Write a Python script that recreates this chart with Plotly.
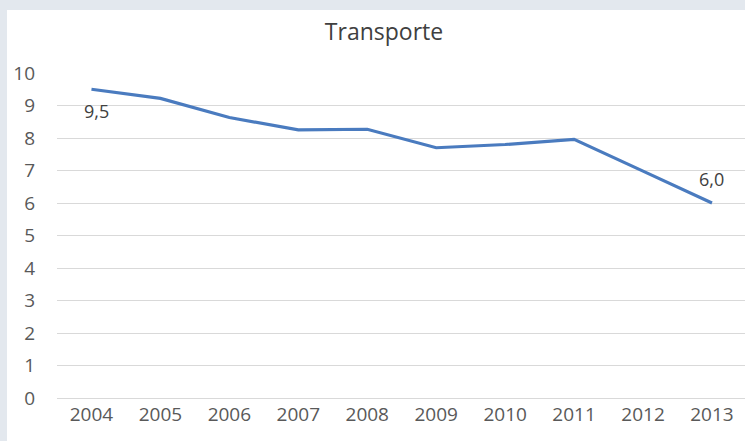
import plotly.graph_objects as go

years = ["2004", "2005", "2006", "2007", "2008", "2009", "2010", "2011", "2012", "2013"]
transporte = [9.5, 9.22, 8.63, 8.25, 8.27, 7.70, 7.80, 7.96, 6.98, 6.0]
title_text = "Transporte"
y_ticks = [0, 1, 2, 3, 4, 5, 6, 7, 8, 9, 10]

W, H = 745, 441
ML, MR, MT, MB = 57, 0, 73, 43
PW = W - ML - MR
PH = H - MT - MB

def px_x(p):
    return (p - ML) / PW

def px_y(p):
    return (H - MB - p) / PH

fig = go.Figure()
fig.add_trace(go.Scatter(
    x=years, y=transporte, mode="lines",
    line=dict(color="#4a7bbf", width=3.2),
    hoverinfo="skip", showlegend=False,
))

fig.add_annotation(x=0, y=transporte[0], text=f"{transporte[0]:.1f}".replace(".", ","),
                   showarrow=False, yshift=-22, xshift=5,
                   font=dict(size=18, color="#404040", family="Open Sans"))
fig.add_annotation(x=len(years) - 1, y=transporte[-1], text=f"{transporte[-1]:.1f}".replace(".", ","),
                   showarrow=False, yshift=24, xshift=0,
                   font=dict(size=18, color="#404040", family="Open Sans"))

fig.add_shape(type="rect", xref="paper", yref="paper",
              x0=px_x(7), x1=px_x(W + 5), y0=px_y(H + 5), y1=px_y(10),
              fillcolor="white", line=dict(width=0), layer="below")

fig.update_layout(
    width=W, height=H,
    margin=dict(l=ML, r=MR, t=MT, b=MB),
    paper_bgcolor="#e3e8ee",
    plot_bgcolor="rgba(0,0,0,0)",
    title=dict(text=title_text, x=384 / W, xanchor="center", xref="container",
               y=1 - 32 / H, yanchor="middle", yref="container",
               font=dict(size=23, color="#404040", family="Open Sans")),
    font=dict(family="Open Sans", color="#595959"),
    xaxis=dict(type="category", range=[-0.5, 9 + (W - 712) / 68.9],
               showgrid=False, showline=False, ticks="",
               tickfont=dict(size=19, color="#595959"), ticklabelstandoff=3),
    yaxis=dict(range=[0, 10], tickvals=y_ticks, showgrid=True, gridcolor="#d9d9d9",
               gridwidth=1, zeroline=True, zerolinecolor="#d9d9d9", zerolinewidth=1,
               showline=False, ticks="", tickfont=dict(size=19, color="#595959"),
               ticklabelstandoff=21),
)

fig.write_html("out.html", config={"displayModeBar": False},
               post_script="document.body.style.margin='0';document.body.style.padding='0';")
